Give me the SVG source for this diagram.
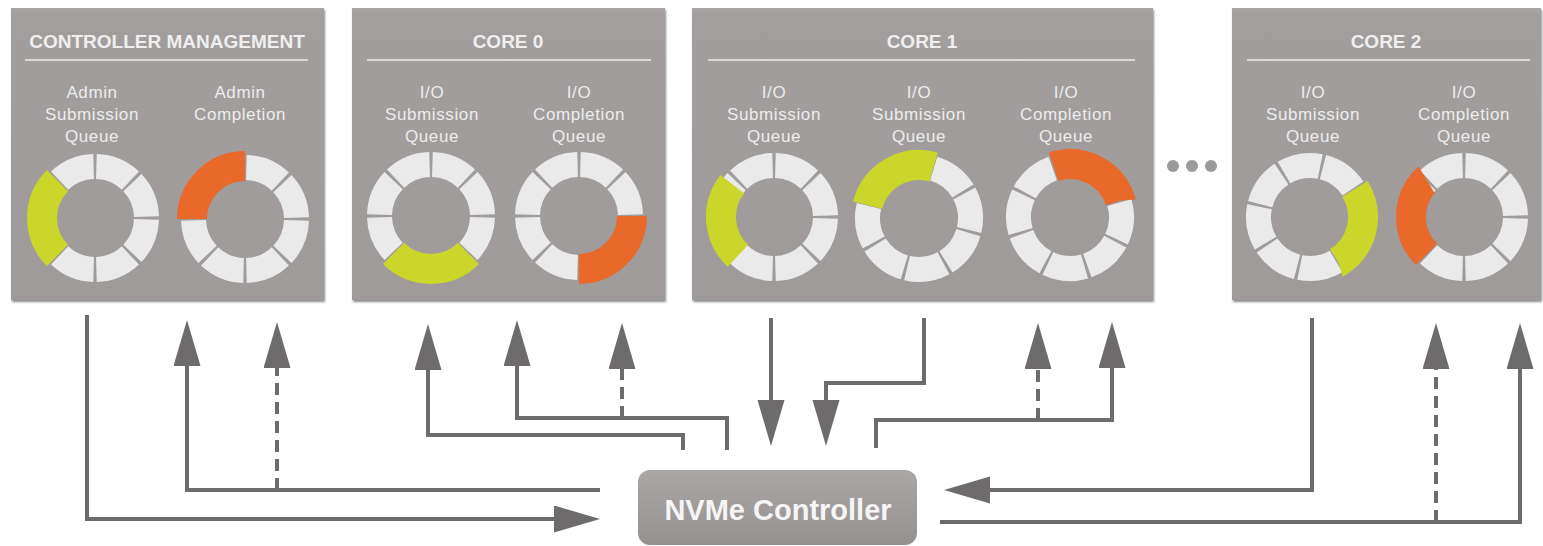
<svg xmlns="http://www.w3.org/2000/svg" width="1543" height="546" viewBox="0 0 1543 546">
  <defs>
    <linearGradient id="panelGrad" x1="0" y1="0" x2="0" y2="1">
      <stop offset="0" stop-color="#a9a5a4"/>
      <stop offset="0.03" stop-color="#a29e9d"/>
      <stop offset="1" stop-color="#9f9b9a"/>
    </linearGradient>
    <linearGradient id="ctrlGrad" x1="0" y1="0" x2="0" y2="1">
      <stop offset="0" stop-color="#aba7a6"/>
      <stop offset="1" stop-color="#959190"/>
    </linearGradient>
    <filter id="shadow" x="-5%" y="-5%" width="110%" height="115%">
      <feDropShadow dx="1" dy="2" stdDeviation="1.2" flood-color="#000" flood-opacity="0.45"/>
    </filter>
    <marker id="arrow" markerUnits="userSpaceOnUse" markerWidth="48" markerHeight="28" refX="2" refY="13.5" orient="auto">
      <path d="M0,0 L46,13.5 L0,27 Z" fill="#6d6b6b" stroke="none"/>
    </marker>
    <style>
      .panel { fill: url(#panelGrad); filter: url(#shadow); }
      .sep { stroke: #dcdad9; stroke-width: 2; }
      .head { font-family: "Liberation Sans", Arial, sans-serif; font-weight: bold; font-size: 19px; fill: #efefef; text-anchor: middle; }
      .lbl { font-family: "Liberation Sans", Arial, sans-serif; font-size: 17px; letter-spacing: 0.6px; fill: #ececec; text-anchor: middle; }
      .ring { fill: none; stroke: #eaeaea; stroke-width: 25; stroke-dasharray: 41.8 3.2; stroke-dashoffset: 43.4; }
      .hl { fill: none; stroke-width: 30; }
      .green { stroke: #cbd62b; }
      .orange { stroke: #e8692a; }
      .conn { fill: none; stroke: #6d6b6b; stroke-width: 4; }
      .dash { stroke-dasharray: 12 7; }
      .ctrl-text { font-family: "Liberation Sans", Arial, sans-serif; font-weight: bold; font-size: 29px; fill: #f5f5f5; text-anchor: middle; }
    </style>
  </defs>
  <rect width="1543" height="546" fill="#ffffff"/>

  <g id="controller-management">
    <rect class="panel" x="11" y="8" width="313" height="292"/>
    <text class="head" x="167" y="48">CONTROLLER MANAGEMENT</text>
    <line class="sep" x1="25" y1="60" x2="308" y2="60"/>
    <text class="lbl" x="92" y="98">Admin</text>
    <text class="lbl" x="92" y="120">Submission</text>
    <text class="lbl" x="92" y="142">Queue</text>
    <text class="lbl" x="240" y="98">Admin</text>
    <text class="lbl" x="240" y="120">Completion</text>
    <circle class="ring" cx="95" cy="218" r="51.5" pathLength="360"/>
    <circle class="hl green" cx="95" cy="218" r="53" pathLength="360" stroke-dasharray="90 270" transform="rotate(135 95 218)"/>
    <circle class="ring" cx="245" cy="219" r="51.5" pathLength="360"/>
    <circle class="hl orange" cx="245" cy="219" r="53" pathLength="360" stroke-dasharray="90 270" transform="rotate(180 245 219)"/>
  </g>

  <g id="core-0">
    <rect class="panel" x="352" y="8" width="313" height="292"/>
    <text class="head" x="508" y="48">CORE 0</text>
    <line class="sep" x1="367" y1="60" x2="651" y2="60"/>
    <text class="lbl" x="432" y="98">I/O</text>
    <text class="lbl" x="432" y="120">Submission</text>
    <text class="lbl" x="432" y="142">Queue</text>
    <text class="lbl" x="579" y="98">I/O</text>
    <text class="lbl" x="579" y="120">Completion</text>
    <text class="lbl" x="579" y="142">Queue</text>
    <circle class="ring" cx="431" cy="216" r="51.5" pathLength="360"/>
    <circle class="hl green" cx="431" cy="216" r="53" pathLength="360" stroke-dasharray="90 270" transform="rotate(45 431 216)"/>
    <circle class="ring" cx="579" cy="216" r="51.5" pathLength="360"/>
    <circle class="hl orange" cx="579" cy="216" r="53" pathLength="360" stroke-dasharray="90 270" transform="rotate(0 579 216)"/>
  </g>

  <g id="core-1">
    <rect class="panel" x="692" y="8" width="461" height="292"/>
    <text class="head" x="922" y="48">CORE 1</text>
    <line class="sep" x1="708" y1="60" x2="1135" y2="60"/>
    <text class="lbl" x="774" y="98">I/O</text>
    <text class="lbl" x="774" y="120">Submission</text>
    <text class="lbl" x="774" y="142">Queue</text>
    <text class="lbl" x="919" y="98">I/O</text>
    <text class="lbl" x="919" y="120">Submission</text>
    <text class="lbl" x="919" y="142">Queue</text>
    <text class="lbl" x="1066" y="98">I/O</text>
    <text class="lbl" x="1066" y="120">Completion</text>
    <text class="lbl" x="1066" y="142">Queue</text>
    <circle class="ring" cx="774" cy="217" r="51.5" pathLength="360"/>
    <circle class="hl green" cx="774" cy="217" r="53" pathLength="360" stroke-dasharray="85 275" transform="rotate(133 774 217)"/>
    <circle class="ring" cx="919" cy="218" r="51.5" pathLength="360" transform="rotate(15 919 218)"/>
    <circle class="hl green" cx="919" cy="218" r="53" pathLength="360" stroke-dasharray="92 268" transform="rotate(194 919 218)"/>
    <circle class="ring" cx="1070" cy="217" r="51.5" pathLength="360" transform="rotate(27 1070 217)"/>
    <circle class="hl orange" cx="1070" cy="217" r="53" pathLength="360" stroke-dasharray="90 270" transform="rotate(252 1070 217)"/>
  </g>

  <g id="ellipsis">
    <circle cx="1173" cy="166" r="6" fill="#9b9999"/>
    <circle cx="1192" cy="166" r="6" fill="#9b9999"/>
    <circle cx="1211" cy="166" r="6" fill="#9b9999"/>
  </g>

  <g id="core-2">
    <rect class="panel" x="1232" y="8" width="309" height="292"/>
    <text class="head" x="1386" y="48">CORE 2</text>
    <line class="sep" x1="1247" y1="60" x2="1530" y2="60"/>
    <text class="lbl" x="1313" y="98">I/O</text>
    <text class="lbl" x="1313" y="120">Submission</text>
    <text class="lbl" x="1313" y="142">Queue</text>
    <text class="lbl" x="1464" y="98">I/O</text>
    <text class="lbl" x="1464" y="120">Completion</text>
    <text class="lbl" x="1464" y="142">Queue</text>
    <circle class="ring" cx="1310" cy="217" r="51.5" pathLength="360" transform="rotate(13 1310 217)"/>
    <circle class="hl green" cx="1310" cy="217" r="53" pathLength="360" stroke-dasharray="90 270" transform="rotate(328 1310 217)"/>
    <circle class="ring" cx="1464" cy="217" r="51.5" pathLength="360"/>
    <circle class="hl orange" cx="1464" cy="217" r="53" pathLength="360" stroke-dasharray="90 270" transform="rotate(135 1464 217)"/>
  </g>

  <g id="nvme-controller">
    <rect x="638" y="470" width="279" height="75" rx="12" fill="url(#ctrlGrad)"/>
    <text class="ctrl-text" x="778" y="520">NVMe Controller</text>
  </g>

  <g id="connectors">
    <path class="conn" d="M87,315 V519 H556" marker-end="url(#arrow)"/>
    <path class="conn" d="M600,490 H187 V364" marker-end="url(#arrow)"/>
    <path class="conn dash" d="M277,490 V366" marker-end="url(#arrow)"/>
    <path class="conn" d="M683,450 V435 H428 V368" marker-end="url(#arrow)"/>
    <path class="conn" d="M727,450 V418 H517 V364" marker-end="url(#arrow)"/>
    <path class="conn dash" d="M622,418 V367" marker-end="url(#arrow)"/>
    <path class="conn" d="M771,318 V402" marker-end="url(#arrow)"/>
    <path class="conn" d="M924,318 V383 H826 V402" marker-end="url(#arrow)"/>
    <path class="conn" d="M876,448 V420 H1112 V366" marker-end="url(#arrow)"/>
    <path class="conn dash" d="M1038,420 V367" marker-end="url(#arrow)"/>
    <path class="conn" d="M1312,318 V490 H988" marker-end="url(#arrow)"/>
    <path class="conn" d="M940,522 H1520 V367" marker-end="url(#arrow)"/>
    <path class="conn dash" d="M1436,522 V367" marker-end="url(#arrow)"/>
  </g>
</svg>
